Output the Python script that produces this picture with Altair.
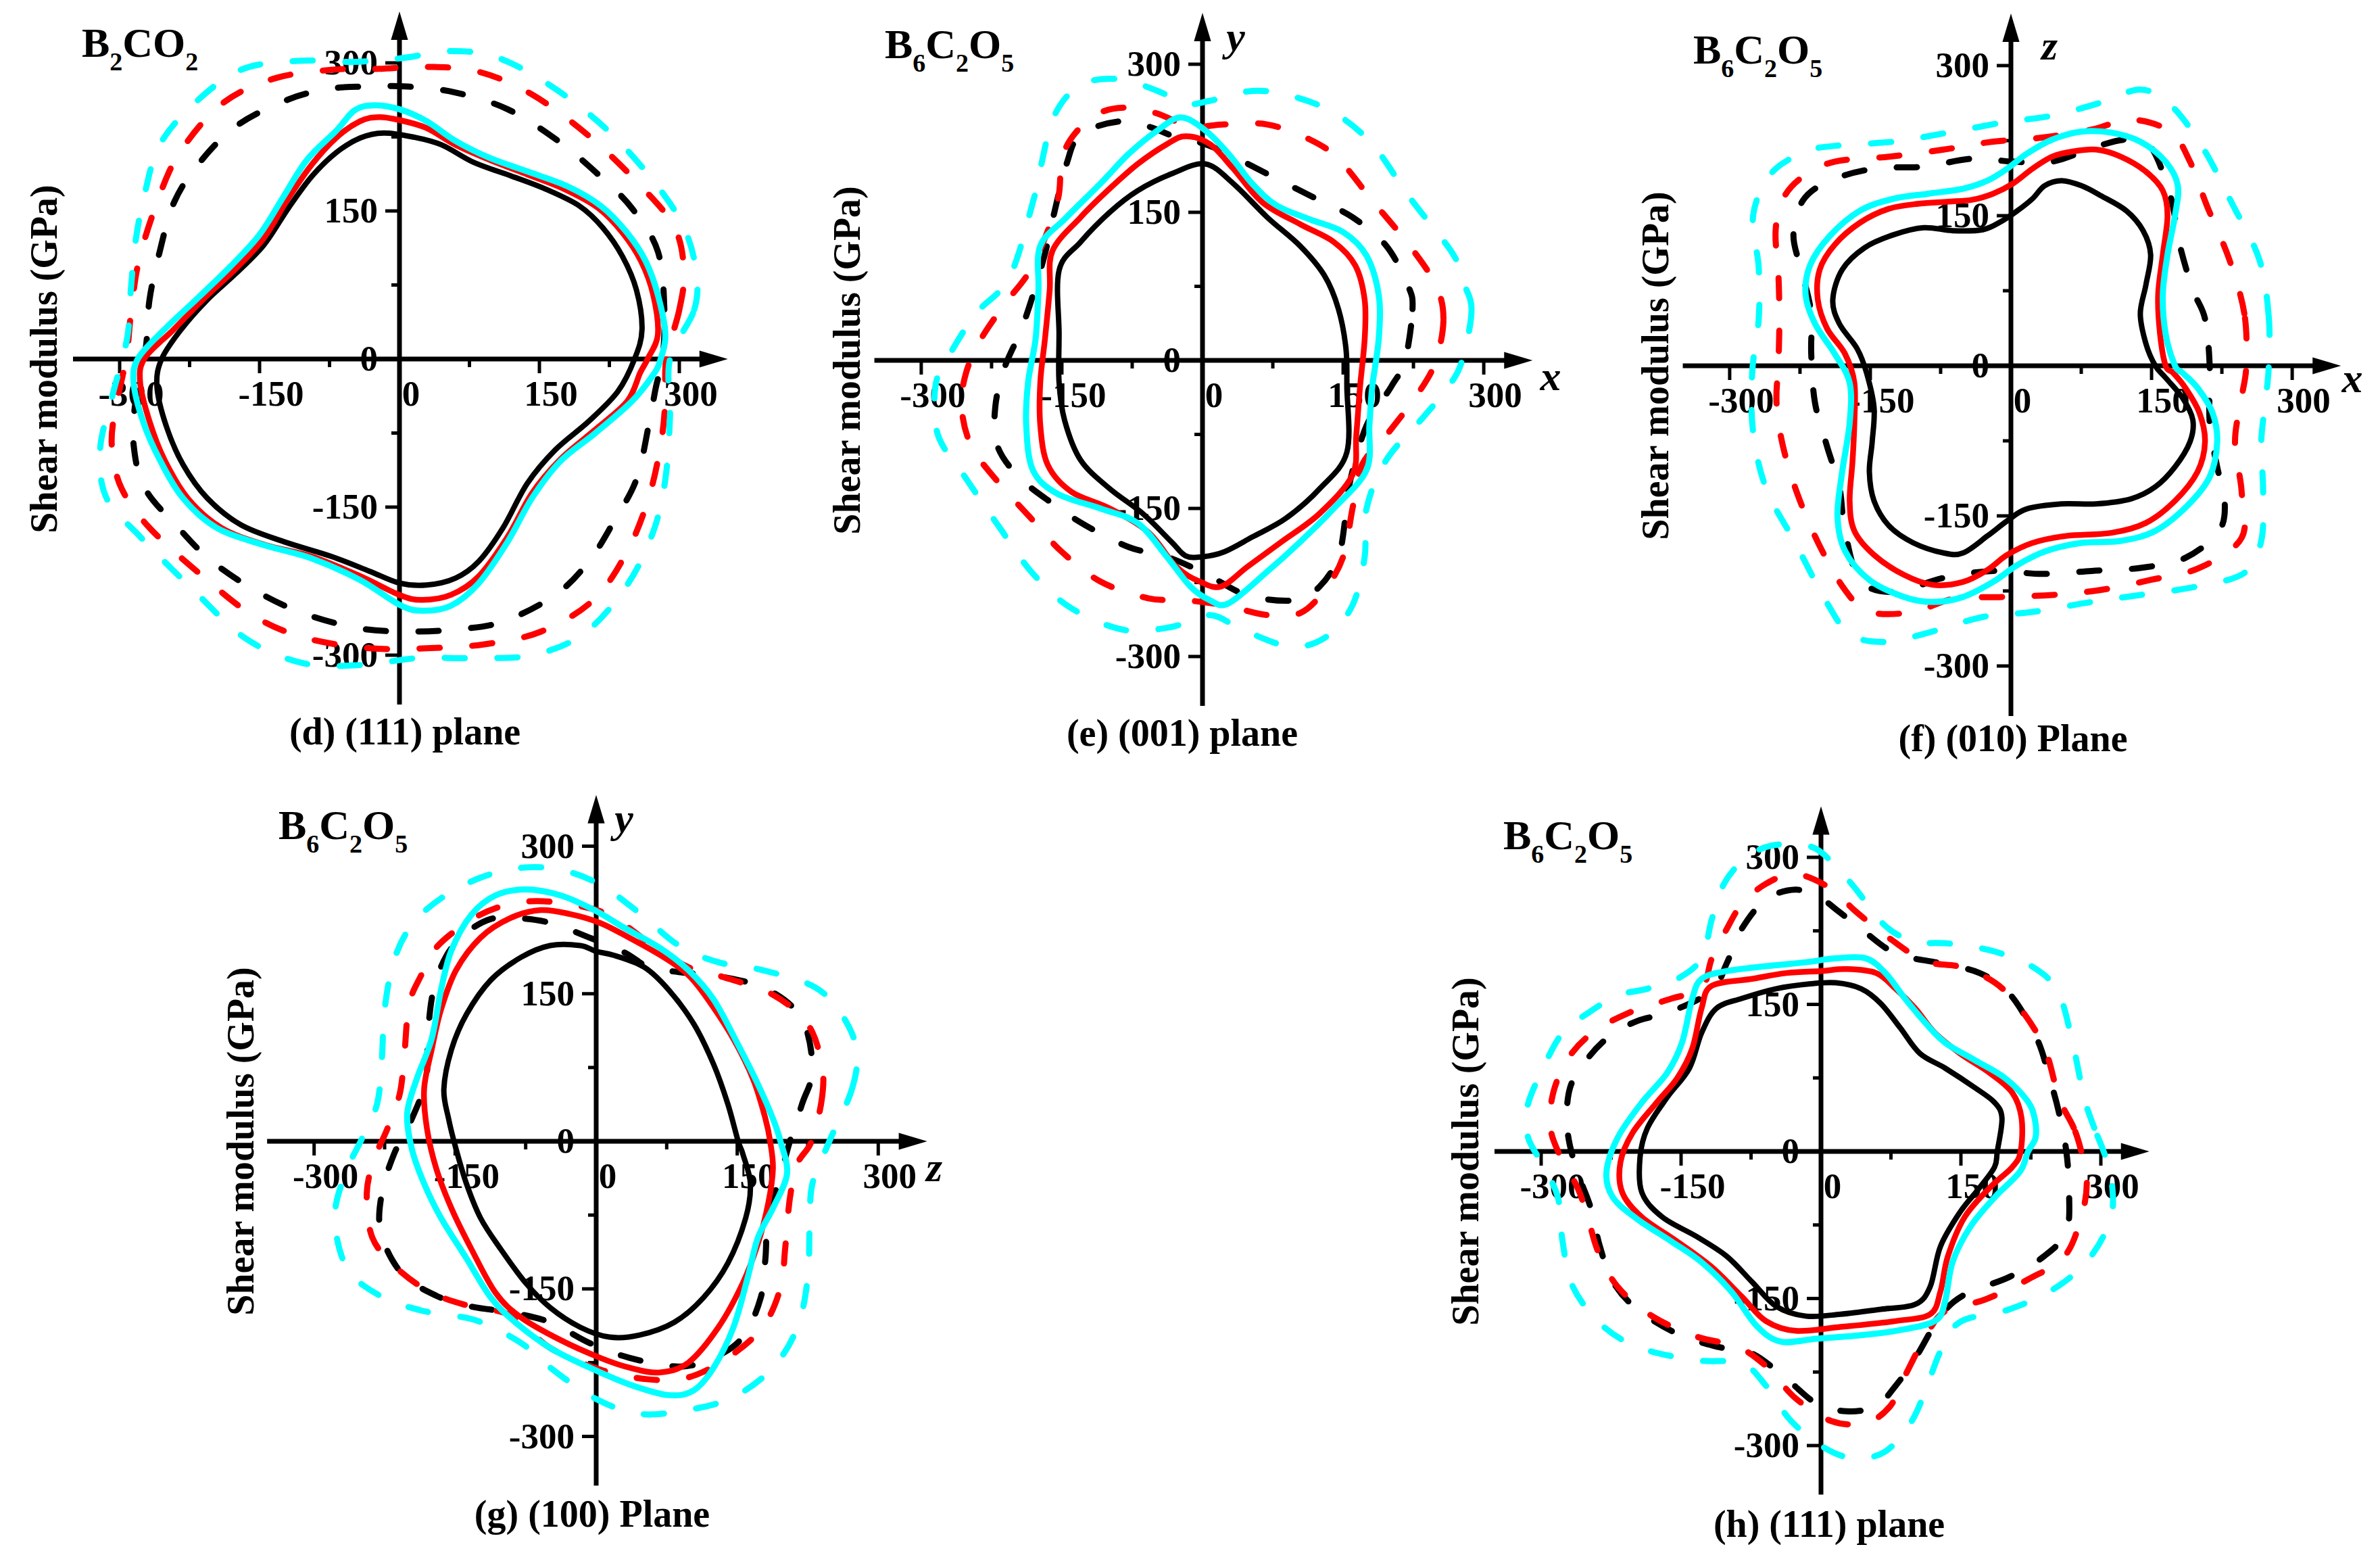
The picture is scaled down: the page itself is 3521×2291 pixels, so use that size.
import altair as alt
import pandas as pd

BLACK, RED, CYAN = "#000000", "#FF0000", "#00FFFF"
FONT = "Liberation Serif"

# ---------------- curve data (GPa) ----------------
# panel (d) B2CO2 (111) plane
D_BLACK_SOLID = [(252,0),(260,30),(254,70),(239,104),(218,133),(193,155),(157,172),(121,185),(80,199),(45,217),(14,225),(-17,229),(-42,224),(-68,209),(-94,185),(-119,153),(-145,116),(-175,87),(-206,60),(-234,30),(-255,0),(-260,-28),(-250,-68),(-232,-107),(-206,-141),(-170,-168),(-124,-185),(-73,-200),(-32,-215),(0,-227),(29,-229),(60,-222),(85,-205),(111,-171),(137,-126),(167,-92),(203,-63),(234,-33)]
D_RED_SOLID = [(266,0),(277,25),(272,65),(259,99),(239,128),(213,153),(177,172),(137,187),(96,202),(60,217),(29,234),(0,242),(-22,245),(-42,241),(-68,224),(-94,197),(-119,163),(-145,123),(-175,92),(-211,60),(-242,30),(-273,1),(-278,-24),(-268,-63),(-252,-102),(-227,-141),(-191,-171),(-145,-188),(-94,-200),(-42,-220),(0,-239),(24,-244),(55,-239),(85,-220),(116,-180),(142,-136),(172,-102),(208,-73),(244,-43),(258,-14)]
D_CYAN_SOLID = [(280,0),(285,25),(277,65),(264,99),(244,128),(216,155),(180,175),(137,190),(96,204),(60,221),(29,241),(0,253),(-27,257),(-48,252),(-68,231),(-99,202),(-124,165),(-150,126),(-181,94),(-216,62),(-252,30),(-280,1),(-285,-24),(-275,-63),(-257,-102),(-232,-141),(-196,-171),(-147,-188),(-94,-202),(-42,-224),(0,-249),(24,-255),(55,-250),(85,-227),(116,-185),(142,-141),(172,-104),(210,-75),(249,-43),(272,-16)]
D_BLACK_DASH = [(282,0),(284,50),(277,109),(249,153),(213,187),(170,221),(116,253),(60,270),(9,276),(-32,276),(-73,274),(-119,263),(-175,236),(-216,197),(-242,158),(-257,109),(-268,60),(-272,11),(-283,-43),(-285,-87),(-273,-131),(-237,-171),(-201,-205),(-150,-237),(-99,-259),(-42,-273),(9,-276),(60,-274),(111,-266),(167,-239),(203,-205),(229,-166),(254,-122),(267,-68),(275,-28)]
D_RED_DASH = [(286,0),(300,50),(305,89),(295,133),(259,175),(203,226),(142,268),(85,291),(29,296),(-22,294),(-73,293),(-135,284),(-191,258),(-237,207),(-262,153),(-280,97),(-288,45),(-293,1),(-306,-58),(-308,-92),(-298,-131),(-268,-171),(-211,-220),(-155,-261),(-99,-283),(-32,-293),(29,-293),(91,-289),(152,-276),(208,-244),(244,-195),(267,-141),(280,-87),(285,-43)]
D_CYAN_DASH = [(290,0),(316,50),(318,89),(305,133),(275,177),(224,231),(165,275),(106,305),(55,312),(4,305),(-48,301),(-109,302),(-170,293),(-221,258),(-257,217),(-273,168),(-283,119),(-288,70),(-292,21),(-308,-38),(-321,-92),(-314,-141),(-278,-180),(-221,-234),(-165,-283),(-104,-308),(-42,-310),(19,-303),(80,-303),(142,-300),(198,-278),(244,-229),(272,-175),(285,-122),(290,-58)]

# panel (e) B6C2O5 (001) plane
E_BLACK_SOLID = [(3,199),(33,179),(69,145),(104,116),(130,86),(145,52),(153,12),(154,-27),(154,-93),(125,-130),(89,-160),(53,-179),(23,-194),(0,-199),(-18,-198),(-33,-184),(-64,-155),(-99,-130),(-130,-101),(-147,-61),(-153,-22),(-153,27),(-153,91),(-130,120),(-99,150),(-69,172),(-33,189)]
E_RED_SOLID = [(-18,227),(8,219),(33,194),(64,160),(104,138),(140,120),(163,96),(173,61),(173,22),(168,-27),(164,-76),(160,-116),(125,-155),(84,-184),(48,-209),(20,-229),(-3,-224),(-28,-209),(-58,-174),(-99,-150),(-140,-133),(-165,-106),(-173,-66),(-173,-22),(-168,22),(-163,71),(-160,111),(-130,145),(-99,174),(-69,199),(-38,219)]
E_CYAN_SOLID = [(-23,246),(3,233),(28,209),(53,179),(79,157),(114,143),(150,130),(175,106),(188,66),(188,22),(181,-27),(178,-66),(175,-111),(140,-150),(104,-184),(69,-214),(28,-246),(8,-243),(-13,-229),(-38,-199),(-69,-165),(-109,-150),(-155,-135),(-181,-111),(-188,-66),(-186,-22),(-178,22),(-175,71),(-173,116),(-145,145),(-109,179),(-79,209),(-48,233)]
E_BLACK_DASH = [(216,0),(224,52),(219,76),(196,116),(160,145),(125,162),(79,184),(38,204),(3,219),(-28,226),(-58,237),(-89,242),(-130,229),(-145,199),(-158,150),(-170,101),(-191,37),(-211,-7),(-221,-47),(-219,-86),(-196,-118),(-160,-145),(-125,-167),(-79,-189),(-38,-199),(3,-216),(48,-238),(99,-243),(125,-229),(145,-199),(153,-155),(158,-120),(175,-66),(201,-27)]
E_RED_DASH = [(249,0),(257,42),(249,76),(221,116),(181,162),(145,204),(114,224),(69,239),(23,239),(-13,237),(-48,250),(-79,256),(-109,251),(-135,231),(-150,204),(-155,160),(-181,96),(-211,57),(-236,22),(-252,-12),(-257,-47),(-247,-86),(-221,-120),(-181,-162),(-150,-194),(-109,-224),(-58,-241),(-18,-243),(23,-248),(69,-258),(104,-256),(130,-233),(150,-199),(160,-150),(170,-106),(196,-76),(231,-32)]
E_CYAN_DASH = [(277,0),(287,52),(277,81),(267,108),(221,165),(181,219),(140,251),(94,268),(53,273),(8,263),(-18,260),(-48,273),(-89,285),(-130,279),(-158,248),(-173,194),(-181,160),(-206,84),(-242,47),(-272,2),(-285,-27),(-282,-76),(-252,-120),(-216,-170),(-181,-216),(-140,-251),(-84,-273),(-33,-270),(8,-258),(43,-273),(94,-290),(132,-280),(160,-248),(173,-199),(175,-150),(196,-101),(236,-57),(262,-27)]

# panel (f) B6C2O5 (010) plane
F_BLACK_SOLID = [(154,0),(144,22),(138,52),(144,81),(149,111),(141,135),(123,155),(96,170),(75,180),(54,185),(36,180),(23,167),(7,155),(-9,145),(-30,136),(-62,135),(-93,138),(-125,131),(-156,118),(-180,96),(-190,66),(-183,42),(-164,17),(-154,-7),(-146,-42),(-148,-76),(-151,-106),(-146,-135),(-130,-160),(-104,-177),(-72,-187),(-51,-187),(-25,-170),(-4,-155),(17,-143),(54,-138),(91,-138),(128,-133),(154,-121),(175,-101),(191,-76),(194,-54),(183,-32),(165,-12)]
F_RED_SOLID = [(165,0),(159,32),(157,71),(162,111),(167,150),(162,175),(144,194),(117,209),(91,216),(65,214),(44,209),(23,197),(2,182),(-19,172),(-41,166),(-67,164),(-98,162),(-130,157),(-161,143),(-188,121),(-204,96),(-206,66),(-196,37),(-177,12),(-167,-17),(-167,-57),(-169,-96),(-172,-135),(-167,-165),(-146,-189),(-114,-209),(-83,-219),(-51,-216),(-25,-204),(-4,-189),(23,-177),(59,-170),(107,-167),(144,-157),(175,-135),(199,-106),(207,-76),(201,-47),(186,-22),(173,-7)]
F_CYAN_SOLID = [(175,0),(165,32),(162,71),(167,111),(175,150),(178,180),(165,204),(138,224),(107,233),(75,234),(44,226),(17,212),(-4,197),(-25,185),(-51,177),(-88,172),(-125,167),(-161,155),(-193,130),(-214,101),(-219,71),(-209,42),(-188,12),(-172,-17),(-172,-57),(-180,-106),(-185,-150),(-177,-185),(-151,-214),(-114,-231),(-83,-236),(-51,-231),(-19,-216),(7,-199),(38,-185),(75,-177),(117,-175),(154,-165),(188,-140),(212,-111),(220,-76),(215,-47),(199,-22),(183,-7)]
F_BLACK_DASH = [(212,0),(207,47),(194,76),(180,121),(170,170),(149,219),(123,226),(91,219),(44,204),(2,204),(-41,207),(-93,199),(-146,197),(-193,185),(-222,165),(-232,130),(-222,91),(-213,52),(-213,12),(-209,-37),(-196,-81),(-183,-121),(-177,-165),(-161,-214),(-125,-226),(-72,-212),(-19,-205),(33,-208),(86,-205),(138,-202),(186,-192),(222,-165),(228,-135),(220,-101),(212,-57)]
F_RED_DASH = [(251,0),(249,52),(233,106),(209,160),(191,204),(170,234),(128,246),(86,236),(33,228),(-19,224),(-72,216),(-130,209),(-188,204),(-222,189),(-243,167),(-251,135),(-248,91),(-247,47),(-248,2),(-250,-37),(-243,-81),(-227,-130),(-204,-180),(-177,-224),(-151,-246),(-104,-246),(-62,-233),(-9,-231),(44,-229),(96,-224),(149,-214),(201,-202),(246,-172),(246,-125),(239,-76),(246,-32)]
F_CYAN_DASH = [(275,0),(275,49),(265,106),(236,162),(204,219),(170,261),(138,276),(96,263),(44,250),(-9,243),(-67,233),(-125,224),(-185,220),(-219,214),(-256,192),(-275,150),(-269,98),(-269,47),(-276,-7),(-275,-66),(-261,-123),(-230,-177),(-198,-234),(-172,-268),(-135,-276),(-93,-268),(-30,-251),(23,-246),(86,-236),(138,-229),(196,-221),(249,-207),(267,-175),(269,-125),(267,-76),(272,-32)]

# panel (g) B6C2O5 (100) plane
G_BLACK_SOLID = [(151,0),(140,38),(125,78),(104,119),(77,154),(51,177),(19,189),(0,193),(-17,199),(-49,199),(-80,187),(-112,164),(-138,129),(-154,93),(-162,53),(-157,23),(-149,-8),(-138,-43),(-123,-78),(-102,-109),(-75,-144),(-49,-169),(-17,-189),(14,-199),(46,-197),(83,-184),(114,-159),(140,-124),(159,-78),(164,-43),(156,-13)]
G_RED_SOLID = [(185,0),(180,23),(167,63),(146,104),(119,144),(98,169),(72,187),(35,207),(4,222),(-28,231),(-59,235),(-91,227),(-123,207),(-149,174),(-165,134),(-175,93),(-183,53),(-180,13),(-170,-28),(-154,-68),(-133,-109),(-107,-154),(-80,-179),(-38,-202),(4,-220),(35,-230),(67,-235),(98,-225),(130,-189),(156,-144),(172,-104),(183,-63),(188,-28)]
G_CYAN_SOLID = [(196,0),(188,23),(172,58),(151,98),(125,144),(98,174),(67,197),(30,217),(-2,235),(-38,250),(-75,256),(-107,250),(-133,230),(-154,194),(-165,154),(-175,104),(-191,63),(-201,28),(-196,-8),(-183,-43),(-165,-78),(-138,-119),(-112,-159),(-86,-184),(-49,-210),(-7,-230),(35,-247),(77,-258),(104,-253),(125,-230),(146,-189),(161,-139),(172,-98),(188,-68),(203,-33)]
G_BLACK_DASH = [(206,0),(219,38),(230,73),(219,124),(183,154),(135,167),(88,172),(56,177),(30,192),(-7,207),(-49,222),(-86,227),(-112,226),(-138,212),(-159,189),(-173,154),(-179,109),(-181,63),(-196,23),(-215,-13),(-228,-53),(-229,-93),(-207,-134),(-170,-157),(-133,-168),(-91,-174),(-49,-184),(-7,-205),(35,-220),(88,-229),(125,-220),(156,-199),(175,-159),(180,-119),(183,-78),(198,-28)]
G_RED_DASH = [(229,0),(240,43),(240,78),(225,119),(188,149),(135,167),(98,177),(56,202),(14,230),(-28,241),(-70,244),(-107,237),(-138,222),(-170,197),(-186,169),(-199,139),(-204,88),(-209,48),(-222,13),(-236,-18),(-244,-53),(-238,-98),(-212,-129),(-175,-154),(-133,-168),(-91,-177),(-49,-210),(4,-232),(56,-242),(98,-240),(140,-220),(177,-189),(196,-149),(201,-109),(206,-58),(214,-23)]
G_CYAN_DASH = [(248,0),(272,53),(277,93),(261,129),(232,157),(177,174),(130,182),(88,199),(46,232),(4,261),(-38,276),(-80,278),(-123,268),(-165,247),(-196,220),(-215,184),(-225,134),(-228,83),(-233,38),(-249,3),(-267,-33),(-278,-78),(-265,-129),(-230,-157),(-186,-172),(-128,-182),(-80,-205),(-49,-230),(-2,-261),(46,-277),(98,-273),(146,-260),(188,-230),(214,-189),(225,-139),(227,-88),(230,-43)]

# panel (h) B6C2O5 (111) plane
H_BLACK_SOLID = [(189,0),(194,34),(186,50),(165,65),(133,85),(106,100),(85,126),(64,151),(43,166),(16,172),(-11,171),(-48,166),(-85,156),(-112,146),(-128,121),(-141,85),(-165,55),(-186,24),(-194,-6),(-192,-42),(-170,-67),(-133,-87),(-101,-107),(-74,-133),(-48,-158),(-16,-168),(21,-166),(64,-161),(101,-156),(117,-138),(128,-97),(149,-62),(170,-37),(186,-16)]
H_RED_SOLID = [(214,0),(215,34),(205,60),(181,80),(149,100),(122,121),(101,146),(80,166),(59,182),(27,186),(0,184),(-37,182),(-74,176),(-117,169),(-128,146),(-138,105),(-154,75),(-176,50),(-202,19),(-215,-11),(-213,-42),(-192,-67),(-154,-92),(-117,-118),(-85,-148),(-59,-173),(-27,-183),(21,-179),(80,-173),(117,-166),(128,-143),(136,-107),(154,-67),(181,-37),(205,-16)]
H_CYAN_SOLID = [(222,0),(230,14),(229,34),(221,52),(197,75),(165,93),(133,111),(112,131),(90,156),(69,182),(48,197),(16,197),(-16,193),(-59,189),(-101,184),(-128,176),(-138,156),(-149,111),(-165,80),(-192,50),(-218,14),(-230,-21),(-223,-47),(-197,-69),(-160,-92),(-128,-113),(-96,-143),(-69,-178),(-43,-194),(-5,-191),(37,-188),(80,-183),(122,-173),(133,-153),(141,-113),(160,-77),(186,-47),(213,-21)]
H_BLACK_DASH = [(263,0),(255,40),(245,75),(231,116),(202,161),(170,182),(128,192),(80,202),(43,227),(16,247),(0,258),(-27,267),(-59,257),(-85,227),(-101,192),(-117,164),(-160,143),(-197,133),(-226,118),(-250,95),(-269,65),(-272,24),(-263,-16),(-247,-57),(-237,-97),(-223,-133),(-197,-161),(-154,-186),(-112,-199),(-74,-206),(-37,-232),(-5,-257),(27,-265),(59,-260),(80,-239),(101,-211),(128,-168),(154,-146),(202,-128),(239,-107),(263,-82),(266,-42)]
H_RED_DASH = [(279,0),(271,24),(255,55),(237,111),(197,164),(154,187),(112,194),(74,217),(37,245),(11,268),(-27,283),(-59,273),(-85,252),(-101,227),(-117,197),(-128,166),(-160,156),(-207,141),(-245,121),(-271,95),(-287,60),(-290,24),(-279,-6),(-261,-37),(-250,-67),(-239,-102),(-218,-138),(-181,-168),(-133,-189),(-90,-199),(-59,-219),(-27,-252),(11,-275),(48,-277),(74,-260),(90,-229),(112,-189),(133,-163),(176,-151),(223,-130),(261,-107),(279,-67),(285,-31)]
H_CYAN_DASH = [(303,0),(293,24),(282,55),(271,105),(255,161),(229,187),(186,204),(138,212),(101,214),(69,230),(37,268),(16,291),(-11,311),(-53,312),(-82,298),(-104,273),(-117,237),(-128,197),(-154,176),(-186,166),(-218,159),(-250,141),(-277,121),(-298,85),(-315,45),(-314,14),(-298,-14),(-282,-47),(-277,-92),(-266,-138),(-234,-178),(-192,-201),(-133,-213),(-85,-216),(-59,-239),(-32,-275),(5,-303),(37,-313),(69,-306),(96,-277),(112,-244),(128,-204),(149,-174),(202,-161),(250,-140),(287,-110),(311,-67),(311,-26)]

TICK_VALUES = [-300, -225, -150, -75, 75, 150, 225, 300]
LABEL_VALUES = [-300, -150, 0, 150, 300]
AXIS_START, AXIS_END = -350, 352
Y_TITLE = "Shear modulus (GPa)"

PANELS = [
    dict(curves=[D_BLACK_DASH, D_RED_DASH, D_CYAN_DASH, D_BLACK_SOLID, D_RED_SOLID, D_CYAN_SOLID],
         formula=[("B", 0), ("2", 1), ("C", 0), ("O", 0), ("2", 1)],
         caption="(d) (111) plane", cap_dx=8, xletter=None, yletter=None,
         xl=583, yt=523, kx=1.38, ky=1.46),
    dict(curves=[E_BLACK_DASH, E_RED_DASH, E_CYAN_DASH, E_BLACK_SOLID, E_RED_SOLID, E_CYAN_SOLID],
         formula=[("B", 0), ("6", 1), ("C", 0), ("2", 1), ("O", 0), ("5", 1)],
         caption="(e) (001) plane", cap_dx=-30, xletter=("x", 515, 25), yletter=("y", 49, -477),
         xl=579, yt=525, kx=1.387, ky=1.46),
    dict(curves=[F_BLACK_DASH, F_RED_DASH, F_CYAN_DASH, F_BLACK_SOLID, F_RED_SOLID, F_CYAN_SOLID],
         formula=[("B", 0), ("6", 1), ("C", 0), ("2", 1), ("O", 0), ("5", 1)],
         caption="(f) (010) Plane", cap_dx=3, xletter=("x", 505, 20), yletter=("z", 57, -472),
         xl=583, yt=533, kx=1.387, ky=1.48),
    dict(curves=[G_BLACK_DASH, G_RED_DASH, G_CYAN_DASH, G_BLACK_SOLID, G_RED_SOLID, G_CYAN_SOLID],
         formula=[("B", 0), ("6", 1), ("C", 0), ("2", 1), ("O", 0), ("5", 1)],
         caption="(g) (100) Plane", cap_dx=-6, xletter=("z", 500, 40), yletter=("y", 41, -476),
         xl=588, yt=523, kx=1.391, ky=1.455),
    dict(curves=[H_BLACK_DASH, H_RED_DASH, H_CYAN_DASH, H_BLACK_SOLID, H_RED_SOLID, H_CYAN_SOLID],
         formula=[("B", 0), ("6", 1), ("C", 0), ("2", 1), ("O", 0), ("5", 1)],
         caption="(h) (111) plane", cap_dx=12, xletter=None, yletter=None,
         xl=588, yt=538, kx=1.38, ky=1.45),
]

STYLES = [(BLACK, True, 9), (RED, True, 9), (CYAN, True, 9),
          (BLACK, False, 8), (RED, False, 8.5), (CYAN, False, 9)]

W, H = 1120, 1120
ADV = {"B": 0.667, "C": 0.722, "O": 0.778}
DUMMY = pd.DataFrame({"k": [0]})
ARROW_RIGHT = "M0,0L-1,-0.3L-1,0.3Z"
ARROW_UP = "M0,0L-0.3,1L0.3,1Z"
ARROW_SIZE = 7056


def text_layer(txt, x, y, size, align="center", baseline="middle", angle=0, style="normal"):
    kw = dict(text=txt, font=FONT, fontSize=size, fontWeight="bold", align=align,
              baseline=baseline, color=BLACK, fontStyle=style)
    if angle:
        kw["angle"] = angle
    return alt.Chart(DUMMY).mark_text(**kw).encode(x=alt.value(x), y=alt.value(y))


def panel(p):
    xl, yt, kx, ky = p["xl"], p["yt"], p["kx"], p["ky"]
    xsc = alt.Scale(domain=[-xl / kx, (W - xl) / kx], nice=False, zero=False)
    ysc = alt.Scale(domain=[-(H - yt) / ky, yt / ky], nice=False, zero=False)

    def X(f):
        return alt.X(f, type="quantitative", scale=xsc, axis=None)

    def Y(f):
        return alt.Y(f, type="quantitative", scale=ysc, axis=None)

    layers = []
    # tick labels
    lab = pd.DataFrame({"v": LABEL_VALUES, "z": 0, "t": [str(v) for v in LABEL_VALUES]})
    tstyle = dict(font=FONT, fontSize=53, fontWeight="bold", color=BLACK)
    layers.append(alt.Chart(lab).mark_text(align="center", baseline="alphabetic", dx=17, dy=69, **tstyle)
                  .encode(x=X("v"), y=Y("z"), text="t:N"))
    layers.append(alt.Chart(lab).mark_text(align="right", baseline="alphabetic", dx=-32, dy=17, **tstyle)
                  .encode(x=X("z"), y=Y("v"), text="t:N"))
    # axis lines
    ax = pd.DataFrame({"a": [AXIS_START], "b": [AXIS_END - 20], "z": [0]})
    layers.append(alt.Chart(ax).mark_rule(color=BLACK, strokeWidth=7).encode(x=X("a"), x2="b:Q", y=Y("z")))
    layers.append(alt.Chart(ax).mark_rule(color=BLACK, strokeWidth=7).encode(y=Y("a"), y2="b:Q", x=X("z")))
    # ticks
    major = pd.DataFrame({"v": [v for v in TICK_VALUES if v % 150 == 0], "z": 0})
    minor = pd.DataFrame({"v": [v for v in TICK_VALUES if v % 150 != 0], "z": 0})
    for df, ln in ((major, 21), (minor, 12)):
        layers.append(alt.Chart(df).mark_tick(orient="vertical", size=ln, thickness=5, yOffset=ln / 2,
                                              color=BLACK, opacity=1).encode(x=X("v"), y=Y("z")))
        layers.append(alt.Chart(df).mark_tick(orient="horizontal", size=ln, thickness=5, xOffset=-ln / 2,
                                              color=BLACK, opacity=1).encode(y=Y("v"), x=X("z")))
    # arrow heads
    tip = pd.DataFrame({"v": [AXIS_END], "z": [0]})
    layers.append(alt.Chart(tip).mark_point(shape=ARROW_RIGHT, size=ARROW_SIZE, filled=True, color=BLACK,
                                            opacity=1, strokeWidth=0).encode(x=X("v"), y=Y("z")))
    layers.append(alt.Chart(tip).mark_point(shape=ARROW_UP, size=ARROW_SIZE, filled=True, color=BLACK,
                                            opacity=1, strokeWidth=0).encode(y=Y("v"), x=X("z")))
    # curves
    for pts, (color, dashed, sw) in zip(p["curves"], STYLES):
        df = pd.DataFrame({"i": range(len(pts)), "x": [q[0] for q in pts], "y": [q[1] for q in pts]})
        kw = dict(interpolate="cardinal-closed", color=color, strokeWidth=sw)
        if dashed:
            kw.update(strokeDash=[30, 48], strokeCap="round")
        layers.append(alt.Chart(df).mark_line(**kw).encode(x=X("x"), y=Y("y"), order="i:Q"))
    # texts
    layers.append(text_layer(Y_TITLE, xl - 524, yt, 56, angle=270))
    layers.append(text_layer(p["caption"], xl + p["cap_dx"], yt + 553, 56))
    x = xl - 470
    for txt, sub in p["formula"]:
        size = 38 if sub else 62
        layers.append(text_layer(txt, x, yt - 447 + (20 if sub else 0), size, align="left", baseline="alphabetic"))
        x += ADV.get(txt, 0.5) * size
    for key in ("xletter", "yletter"):
        if p[key]:
            t, dx, dy = p[key]
            layers.append(text_layer(t, xl + dx, yt + dy, 62, style="italic"))
    return alt.layer(*layers).properties(width=W, height=H)


charts = [panel(p) for p in PANELS]
top = alt.hconcat(charts[0], charts[1], charts[2], spacing=72)
bottom = alt.hconcat(charts[3], charts[4], spacing=692)
chart = alt.vconcat(top, bottom, spacing=37, center=True).properties(padding=0, background="white")
chart = chart.configure_view(stroke=None, strokeWidth=0)
chart.save("out.html", embed_options={"renderer": "svg", "actions": False})
